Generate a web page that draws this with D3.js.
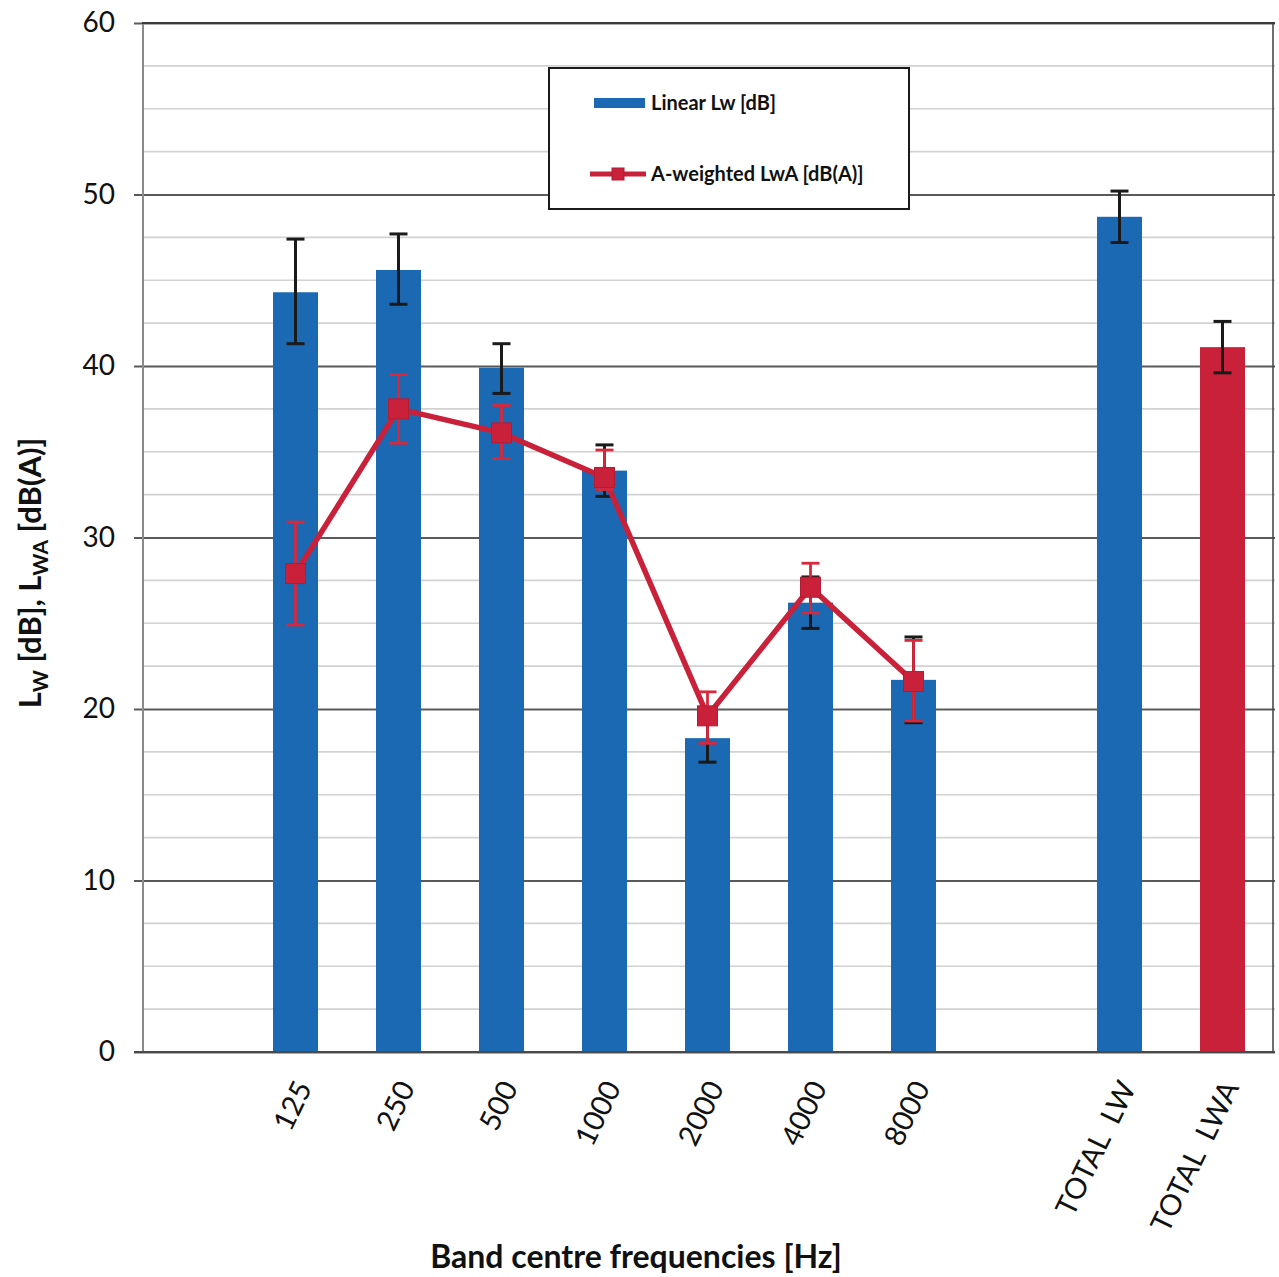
<!DOCTYPE html>
<html>
<head>
<meta charset="utf-8">
<script src="https://cdn.jsdelivr.net/npm/d3@7"></script>
<style>
  html, body { margin: 0; padding: 0; background: #fff; }
  svg { display: block; }
  text { font-family: Lato, "Open Sans", sans-serif; }
</style>
</head>
<body>
<svg id="chart" width="1279" height="1277"></svg>
<script>
// ---- data ----
const categories = ["b0", "125", "250", "500", "1000", "2000", "4000", "8000", "b1", "TOTAL LW", "TOTAL LWA"];
const tickLabels = ["", "125", "250", "500", "1000", "2000", "4000", "8000", "", "TOTAL\u00a0\u00a0LW", "TOTAL\u00a0\u00a0LWA"];
const linearLw   = [null, 44.3, 45.6, 39.9, 33.9, 18.3, 26.2, 21.7, null, 48.7, null];
const linearLo   = [null, 41.3, 43.6, 38.4, 32.4, 16.9, 24.7, 19.2, null, 47.2, null];
const linearHi   = [null, 47.4, 47.7, 41.3, 35.4, 19.7, 27.7, 24.2, null, 50.2, null];
const totalLwa   = [null, null, null, null, null, null, null, null, null, null, 41.1];
const totalLwaLo = [null, null, null, null, null, null, null, null, null, null, 39.6];
const totalLwaHi = [null, null, null, null, null, null, null, null, null, null, 42.6];
const aWeighted  = [null, 27.9, 37.5, 36.1, 33.5, 19.6, 27.1, 21.6, null, null, null];
const aLo        = [null, 24.9, 35.5, 34.6, 32.8, 18.0, 25.6, 19.3, null, null, null];
const aHi        = [null, 30.9, 39.5, 37.7, 35.1, 21.0, 28.5, 24.0, null, null, null];
const yTicks = [0, 10, 20, 30, 40, 50, 60];
const yMinor = d3.range(0, 60.01, 2.5);
const legendLabels = ["Linear Lw [dB]", "A-weighted LwA [dB(A)]"];

// ---- layout ----
const BLUE = "#1b68b3", RED = "#c9213a";
const L = 142, R = 1275, T = 23, B = 1052;
const svg = d3.select("#chart");
const x = d3.scaleBand().domain(categories).range([L, R]).paddingInner(0).paddingOuter(0);
const y = d3.scaleLinear().domain([0, 60]).range([B, T]);
const bw = 45;
const cx = c => x(c) + x.bandwidth() / 2 - 1;

// minor gridlines
svg.append("g").selectAll("line").data(yMinor.filter(v => v % 10 !== 0)).join("line")
  .attr("x1", L + 2).attr("x2", R).attr("y1", d => y(d)).attr("y2", d => y(d))
  .attr("stroke", "#d2d2d2").attr("stroke-width", 1.6);

// major gridlines + y axis
const yAxis = d3.axisLeft(y).tickValues(yTicks).tickSize(-(R - L) - 8).tickPadding(20).tickFormat(d3.format("d"));
const gy = svg.append("g").attr("transform", `translate(${L},0)`).call(yAxis);
gy.select(".domain").remove();
gy.selectAll(".tick line").attr("x1", -8).attr("x2", R - L).attr("stroke", "#5a5a5a").attr("stroke-width", 1.8);
gy.selectAll(".tick text").attr("font-size", 28).attr("fill", "#111").attr("x", -27)
  .style("font-family", "Lato, 'Open Sans', sans-serif");

// left axis & right border
svg.append("line").attr("x1", L + 1).attr("x2", L + 1).attr("y1", T).attr("y2", B)
  .attr("stroke", "#8a8a8a").attr("stroke-width", 2);
svg.append("line").attr("x1", R - 2).attr("x2", R - 2).attr("y1", T).attr("y2", B)
  .attr("stroke", "#4a4a4a").attr("stroke-width", 1.6);
svg.append("line").attr("x1", L).attr("x2", R).attr("y1", T).attr("y2", T)
  .attr("stroke", "#3a3a3a").attr("stroke-width", 2);

// bars
const barData = categories.map((c, i) => ({c, v: linearLw[i], lo: linearLo[i], hi: linearHi[i], col: BLUE}))
  .concat(categories.map((c, i) => ({c, v: totalLwa[i], lo: totalLwaLo[i], hi: totalLwaHi[i], col: RED})))
  .filter(d => d.v != null);
svg.append("g").selectAll("rect").data(barData).join("rect")
  .attr("x", d => cx(d.c) - bw / 2).attr("width", bw)
  .attr("y", d => y(d.v)).attr("height", d => y(0) - y(d.v))
  .attr("fill", d => d.col);

// bottom axis line
svg.append("line").attr("x1", L - 8).attr("x2", R).attr("y1", B).attr("y2", B)
  .attr("stroke", "#4a4a4a").attr("stroke-width", 2);

// error bars
function errBars(g, data, color, w, cap) {
  const e = g.append("g").selectAll("g").data(data).join("g");
  e.append("line").attr("x1", d => cx(d.c)).attr("x2", d => cx(d.c))
    .attr("y1", d => y(d.lo)).attr("y2", d => y(d.hi)).attr("stroke", color).attr("stroke-width", w);
  e.append("line").attr("x1", d => cx(d.c) - cap / 2).attr("x2", d => cx(d.c) + cap / 2)
    .attr("y1", d => y(d.lo)).attr("y2", d => y(d.lo)).attr("stroke", color).attr("stroke-width", w);
  e.append("line").attr("x1", d => cx(d.c) - cap / 2).attr("x2", d => cx(d.c) + cap / 2)
    .attr("y1", d => y(d.hi)).attr("y2", d => y(d.hi)).attr("stroke", color).attr("stroke-width", w);
}
errBars(svg, barData, "#1a1a1a", 3, 18);

// A-weighted line
const lineData = categories.map((c, i) => ({c, v: aWeighted[i], lo: aLo[i], hi: aHi[i]})).filter(d => d.v != null);
svg.append("path").datum(lineData)
  .attr("d", d3.line().x(d => cx(d.c)).y(d => y(d.v)))
  .attr("fill", "none").attr("stroke", RED).attr("stroke-width", 5.5).attr("stroke-linejoin", "round");
errBars(svg, lineData, "#d8283c", 2.8, 18);
svg.append("g").selectAll("rect").data(lineData).join("rect")
  .attr("x", d => cx(d.c) - 10).attr("y", d => y(d.v) - 10).attr("width", 20).attr("height", 20)
  .attr("fill", RED).attr("stroke", "#b51b32").attr("stroke-width", 1);

// x tick labels
svg.append("g").selectAll("text").data(categories.map((c, i) => ({c, t: tickLabels[i]})).filter(d => d.t)).join("text")
  .attr("transform", d => `translate(${cx(d.c) + 8},${1083}) rotate(-64)`)
  .attr("text-anchor", "end").attr("dy", "0.35em")
  .attr("font-size", 29).attr("fill", "#111")
  .text(d => d.t);

// x axis title
svg.append("text").attr("x", 636).attr("y", 1268).attr("text-anchor", "middle")
  .attr("font-size", 32).attr("font-weight", "bold").attr("fill", "#111")
  .text("Band centre frequencies [Hz]");

// y axis title
const yt = svg.append("text").attr("transform", "translate(41,573) rotate(-90)")
  .attr("text-anchor", "middle").attr("font-size", 31).attr("font-weight", "bold").attr("fill", "#111");
yt.append("tspan").text("L");
yt.append("tspan").attr("font-size", 21).attr("dy", 7).text("W");
yt.append("tspan").attr("dy", -7).text(" [dB], L");
yt.append("tspan").attr("font-size", 21).attr("dy", 7).text("WA");
yt.append("tspan").attr("dy", -7).text(" [dB(A)]");

// legend
const lg = svg.append("g");
lg.append("rect").attr("x", 549).attr("y", 68).attr("width", 360).attr("height", 141)
  .attr("fill", "#fff").attr("stroke", "#1a1a1a").attr("stroke-width", 2);
lg.append("rect").attr("x", 594).attr("y", 98).attr("width", 51).attr("height", 10).attr("fill", BLUE);
lg.append("line").attr("x1", 590).attr("x2", 646).attr("y1", 174).attr("y2", 174)
  .attr("stroke", RED).attr("stroke-width", 5);
lg.append("rect").attr("x", 612).attr("y", 168).attr("width", 12).attr("height", 12).attr("fill", RED).attr("stroke", "#b51b32");
lg.selectAll("text.lt").data(legendLabels).join("text").attr("class", "lt")
  .attr("x", 651).attr("y", (d, i) => i === 0 ? 110 : 181)
  .attr("font-size", 20).attr("font-weight", "bold").attr("fill", "#111")
  .text(d => d);
</script>
</body>
</html>
